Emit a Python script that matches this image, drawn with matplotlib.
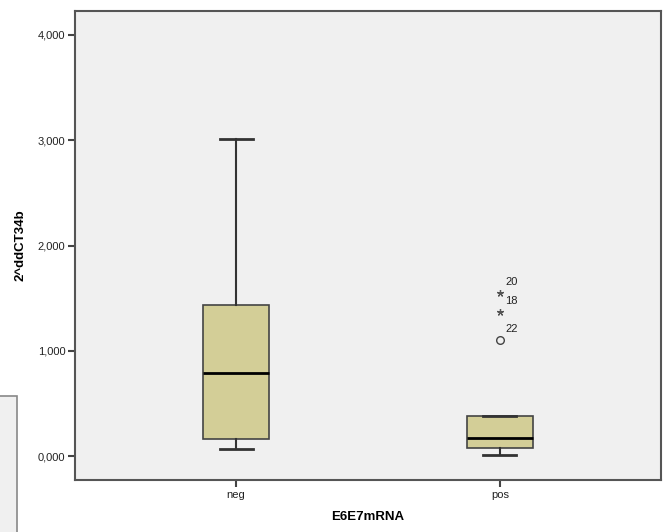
import matplotlib
matplotlib.use('Agg')
import matplotlib.pyplot as plt
from matplotlib.patches import Rectangle
from matplotlib.ticker import FuncFormatter

plt.rcParams['font.family'] = ['Liberation Sans', 'DejaVu Sans']

# group summaries (SPSS style boxplot)
groups = ['neg', 'pos']
whisk_low = [0.064, 0.012]
q1 = [0.162, 0.073]
medians = [0.791, 0.168]
q3 = [1.435, 0.383]
whisk_high = [3.012, 0.383]

# outliers of the pos group: value, case number, marker
out_vals = [1.549, 1.368, 1.102]
out_ids = ['20', '18', '22']
out_marks = ['*', '*', 'o']

fig = plt.figure(figsize=(6.66, 5.32), dpi=100)

# leftover grey panel at lower left of the screenshot
fig.patches.append(Rectangle((-0.01, -0.01), 17 / 666 + 0.01, (532 - 396) / 532 + 0.01,
                             transform=fig.transFigure, facecolor='#f0f0f0',
                             edgecolor='#888888', linewidth=1.2))

ax = fig.add_axes([75 / 666, 52 / 532, 586 / 666, 469 / 532])
ax.set_facecolor('#f0f0f0')

stats = []
for i, g in enumerate(groups):
    stats.append({'label': g, 'whislo': whisk_low[i], 'q1': q1[i], 'med': medians[i],
                  'q3': q3[i], 'whishi': whisk_high[i], 'fliers': []})

ax.bxp(stats, positions=[1, 2], widths=0.25, patch_artist=True, showfliers=False,
       boxprops=dict(facecolor='#d3ce97', edgecolor='#444444', linewidth=1.2),
       medianprops=dict(color='black', linewidth=2),
       whiskerprops=dict(color='#333333', linewidth=1.5),
       capprops=dict(color='#333333', linewidth=2),
       capwidths=0.125)

for v, lab, m in zip(out_vals, out_ids, out_marks):
    if m == '*':
        ax.plot(2, v, marker=(5, 2, 0), markersize=5, color='#555555', markeredgewidth=0.9)
    else:
        ax.plot(2, v, marker='o', markersize=5.5, markerfacecolor='none',
                markeredgecolor='#444444', markeredgewidth=1)
    ax.annotate(lab, (2, v), xytext=(4, 6), textcoords='offset points',
                fontsize=8, color='#222222')

ax.set_xlim(0.39, 2.61)
ax.set_ylim(-0.228, 4.228)
ax.set_yticks([0, 1, 2, 3, 4])
ax.yaxis.set_major_formatter(FuncFormatter(lambda v, p: f'{v:.3f}'.replace('.', ',')))
ax.set_xticks([1, 2])
ax.set_xticklabels(groups)

for s in ax.spines.values():
    s.set_color('#555555')
    s.set_linewidth(1.5)
ax.tick_params(axis='both', direction='out', length=5, width=1.5, color='#444444',
               labelsize=8, labelcolor='#222222', pad=2)

ax.set_ylabel('2^ddCT34b', fontsize=9.5, fontweight='bold', labelpad=8)
ax.set_xlabel('E6E7mRNA', fontsize=9.5, fontweight='bold', labelpad=8)

fig.savefig('out.png', dpi=100)
